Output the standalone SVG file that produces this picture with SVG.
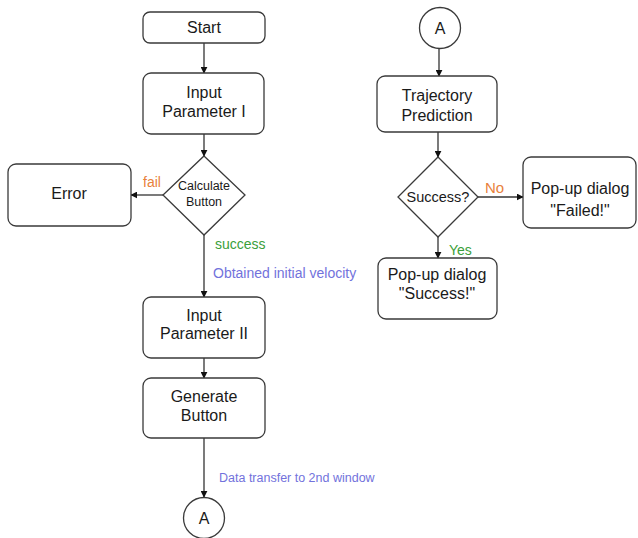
<svg xmlns="http://www.w3.org/2000/svg" width="638" height="538" viewBox="0 0 638 538">
<style>
.n{fill:#fff;stroke:#3a3a3a;stroke-width:1.3}
.t{font-family:"Liberation Sans",Arial,sans-serif;font-size:16px;fill:#1a1a1a;text-anchor:middle}
.s{font-size:12.5px}
.c{stroke:#333;stroke-width:1.3;fill:none;marker-end:url(#ah)}
.l{font-family:"Liberation Sans",Arial,sans-serif;font-size:14px}
.or{fill:#e8813c}.gr{fill:#3aa03a}.bl{fill:#7272dc}
</style>
<defs>
<marker id="ah" viewBox="0 0 10 10" refX="9" refY="5" markerWidth="7" markerHeight="7" markerUnits="userSpaceOnUse" orient="auto">
<path d="M0,0 L10,5 L0,10 z" fill="#111"/>
</marker>
</defs>
<rect width="638" height="538" fill="#fff"/>
<g id="connectors">
<line class="c" x1="204" y1="43" x2="204" y2="73"/>
<line class="c" x1="204" y1="134" x2="204" y2="156"/>
<line class="c" x1="163" y1="195" x2="131" y2="195"/>
<line class="c" x1="204" y1="235" x2="204" y2="297"/>
<line class="c" x1="204" y1="358" x2="204" y2="378"/>
<line class="c" x1="204" y1="438" x2="204" y2="497"/>
<line class="c" x1="439" y1="48" x2="439" y2="76"/>
<line class="c" x1="438" y1="132" x2="438" y2="157"/>
<line class="c" x1="478" y1="197" x2="523" y2="197"/>
<line class="c" x1="438" y1="237" x2="438" y2="258"/>
<text class="l or" x="143" y="187">fail</text>
<text class="l gr" x="215" y="249">success</text>
<text class="l bl" x="213" y="278">Obtained initial velocity</text>
<text class="l bl" x="219" y="482" style="font-size:12.5px">Data transfer to 2nd window</text>
<text class="l or" x="485" y="193" style="font-size:15px">No</text>
<text class="l gr" x="449" y="255">Yes</text>
</g>
<g id="start"><rect class="n" x="143" y="12" width="122" height="31" rx="7"/><text class="t" x="204" y="33">Start</text></g>
<g id="input1"><rect class="n" x="143" y="73" width="121" height="61" rx="8"/><text class="t" x="204" y="98">Input</text><text class="t" x="204" y="117">Parameter I</text></g>
<g id="calc"><polygon class="n" points="204,156 245,195 204,235 163,195"/><text class="t s" x="204" y="190">Calculate</text><text class="t s" x="204" y="206">Button</text></g>
<g id="error"><rect class="n" x="8" y="164" width="123" height="62" rx="8"/><text class="t" x="69" y="199">Error</text></g>
<g id="input2"><rect class="n" x="143" y="297" width="122" height="61" rx="8"/><text class="t" x="204" y="321">Input</text><text class="t" x="204" y="339">Parameter II</text></g>
<g id="generate"><rect class="n" x="143" y="378" width="122" height="60" rx="8"/><text class="t" x="204" y="402">Generate</text><text class="t" x="204" y="421">Button</text></g>
<g id="a1"><circle class="n" cx="204" cy="518" r="20.5"/><text class="t" x="204" y="524">A</text></g>
<g id="a2"><circle class="n" cx="440" cy="28" r="20.5"/><text class="t" x="440" y="34">A</text></g>
<g id="traj"><rect class="n" x="377" y="76" width="120" height="56" rx="8"/><text class="t" x="437" y="101">Trajectory</text><text class="t" x="437" y="121">Prediction</text></g>
<g id="success"><polygon class="n" points="438,157 478,197 438,237 398,197"/><text class="t" x="438" y="202" style="font-size:14.5px">Success?</text></g>
<g id="failed"><rect class="n" x="523" y="157" width="113" height="71" rx="8"/><text class="t" x="580" y="194">Pop-up dialog</text><text class="t" x="580" y="216">"Failed!"</text></g>
<g id="popsuccess"><rect class="n" x="378" y="258" width="119" height="61" rx="8"/><text class="t" x="437" y="280">Pop-up dialog</text><text class="t" x="437" y="299">"Success!"</text></g>
</svg>
